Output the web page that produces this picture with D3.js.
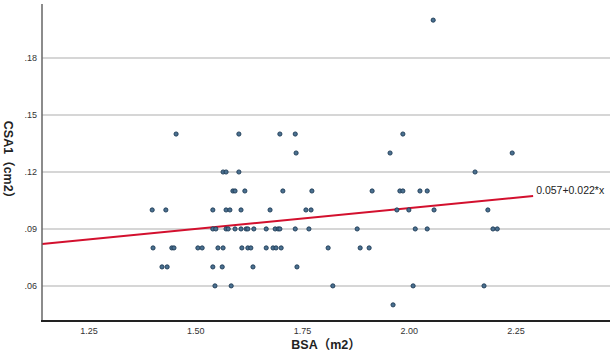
<!DOCTYPE html>
<html>
<head>
<meta charset="utf-8">
<script src="https://cdn.jsdelivr.net/npm/d3@7"></script>
<style>
  html, body { margin: 0; padding: 0; background: #fff; }
  svg { display: block; font-family: "Liberation Sans", "DejaVu Sans", "Noto Sans CJK SC", sans-serif; }
</style>
</head>
<body>
<svg id="chart" width="616" height="359"></svg>
<script>
// BSA (m2) of each case
var bsa = [
	2.056,
	1.454, 1.601, 1.697, 1.733, 1.985,
	1.735, 1.955, 2.241,
	1.564, 1.571, 1.601, 2.154,
	1.587, 1.592, 1.615, 1.704, 1.772, 1.913, 1.978, 1.985, 2.025, 2.042,
	1.398, 1.430, 1.540, 1.571, 1.580, 1.606, 1.674, 1.758, 1.770, 1.971, 1.999, 2.058, 2.184,
	1.540, 1.547, 1.571, 1.576, 1.592, 1.606, 1.618, 1.622, 1.636, 1.665, 1.686, 1.693, 1.697, 1.733, 1.765, 1.878, 2.014, 2.042, 2.196, 2.206,
	1.400, 1.444, 1.449, 1.505, 1.515, 1.552, 1.564, 1.608, 1.622, 1.629, 1.665, 1.681, 1.688, 1.700, 1.810, 1.885, 1.906,
	1.421, 1.433, 1.540, 1.562, 1.634, 1.737,
	1.545, 1.583, 1.821, 2.009, 2.175,
	1.962
];

// CSA1 (cm2) of each case, same order
var csa1 = [
	0.20,
	0.14, 0.14, 0.14, 0.14, 0.14,
	0.13, 0.13, 0.13,
	0.12, 0.12, 0.12, 0.12,
	0.11, 0.11, 0.11, 0.11, 0.11, 0.11, 0.11, 0.11, 0.11, 0.11,
	0.10, 0.10, 0.10, 0.10, 0.10, 0.10, 0.10, 0.10, 0.10, 0.10, 0.10, 0.10, 0.10,
	0.09, 0.09, 0.09, 0.09, 0.09, 0.09, 0.09, 0.09, 0.09, 0.09, 0.09, 0.09, 0.09, 0.09, 0.09, 0.09, 0.09, 0.09, 0.09, 0.09,
	0.08, 0.08, 0.08, 0.08, 0.08, 0.08, 0.08, 0.08, 0.08, 0.08, 0.08, 0.08, 0.08, 0.08, 0.08, 0.08, 0.08,
	0.07, 0.07, 0.07, 0.07, 0.07, 0.07,
	0.06, 0.06, 0.06, 0.06, 0.06,
	0.05
];

var xTicks = [1.25, 1.50, 1.75, 2.00, 2.25];
var yTicks = [0.06, 0.09, 0.12, 0.15, 0.18];

// fit line: 0.057 + 0.022 * x
var fitIntercept = 0.057,
	fitSlope = 0.022,
	fitEnd = 2.29,
	fitLabel = '0.057+0.022*x';

var xTitle = 'BSA（m2）',
	yTitle = 'CSA1（cm2）';

var svg = d3.select('#chart'),
	plotLeft = 42,
	plotRight = 610,
	plotTop = 4,
	plotBottom = 321;

var x = d3.scaleLinear()
	.domain([1.14, 2.47])
	.range([plotLeft, plotRight]);

var y = d3.scaleLinear()
	.domain([0.0415, 0.2085])
	.range([plotBottom, plotTop]);

var points = bsa.map(function(d, i) { return { x: d, y: csa1[i] }; });

// horizontal grid
svg.append('g')
	.selectAll('line')
	.data(yTicks)
	.enter()
		.append('line')
		.attr('x1', plotLeft)
		.attr('x2', plotRight)
		.attr('y1', function(d) { return y(d); })
		.attr('y2', function(d) { return y(d); })
		.attr('stroke', '#c9c9c9')
		.attr('stroke-width', 1.5);

// y tick labels
svg.append('g')
	.selectAll('text')
	.data(yTicks)
	.enter()
		.append('text')
		.attr('x', plotLeft - 5)
		.attr('y', function(d) { return y(d); })
		.attr('dy', '0.35em')
		.attr('text-anchor', 'end')
		.attr('font-size', 9)
		.attr('fill', '#333')
		.text(function(d) { return d3.format('.2f')(d).replace(/^0/, ''); });

// x tick labels
svg.append('g')
	.selectAll('text')
	.data(xTicks)
	.enter()
		.append('text')
		.attr('x', function(d) { return x(d); })
		.attr('y', plotBottom + 13)
		.attr('text-anchor', 'middle')
		.attr('font-size', 9)
		.attr('fill', '#333')
		.text(function(d) { return d3.format('.2f')(d); });

// fit line
var fitX = [x.domain()[0], fitEnd];
svg.append('line')
	.attr('x1', x(fitX[0]))
	.attr('y1', y(fitIntercept + fitSlope * fitX[0]))
	.attr('x2', x(fitX[1]))
	.attr('y2', y(fitIntercept + fitSlope * fitX[1]))
	.attr('stroke', '#d3102e')
	.attr('stroke-width', 2);

svg.append('text')
	.attr('x', x(fitEnd) + 3)
	.attr('y', y(fitIntercept + fitSlope * fitEnd) - 6)
	.attr('dy', '0.35em')
	.attr('font-size', 10.5)
	.attr('fill', '#222')
	.text(fitLabel);

// points
svg.append('g')
	.selectAll('circle')
	.data(points)
	.enter()
		.append('circle')
		.attr('cx', function(d) { return x(d.x); })
		.attr('cy', function(d) { return y(d.y); })
		.attr('r', 2.1)
		.attr('fill', '#4a7090')
		.attr('stroke', '#1d3a55')
		.attr('stroke-width', 0.9);

// axes
svg.append('line')
	.attr('x1', plotLeft)
	.attr('x2', plotLeft)
	.attr('y1', plotTop)
	.attr('y2', plotBottom)
	.attr('stroke', '#666')
	.attr('stroke-width', 1.5);

svg.append('line')
	.attr('x1', plotLeft - 1)
	.attr('x2', plotRight)
	.attr('y1', plotBottom)
	.attr('y2', plotBottom)
	.attr('stroke', '#222')
	.attr('stroke-width', 2);

// titles
svg.append('text')
	.attr('x', (plotLeft + plotRight) / 2)
	.attr('y', plotBottom + 28)
	.attr('text-anchor', 'middle')
	.attr('font-size', 12.5)
	.attr('font-weight', 'bold')
	.attr('fill', '#222')
	.text(xTitle);

svg.append('text')
	.attr('transform', 'translate(8,' + ((plotTop + plotBottom) / 2) + ') rotate(90)')
	.attr('text-anchor', 'middle')
	.attr('dy', '0.35em')
	.attr('font-size', 12.5)
	.attr('font-weight', 'bold')
	.attr('fill', '#222')
	.text(yTitle);
</script>
</body>
</html>
